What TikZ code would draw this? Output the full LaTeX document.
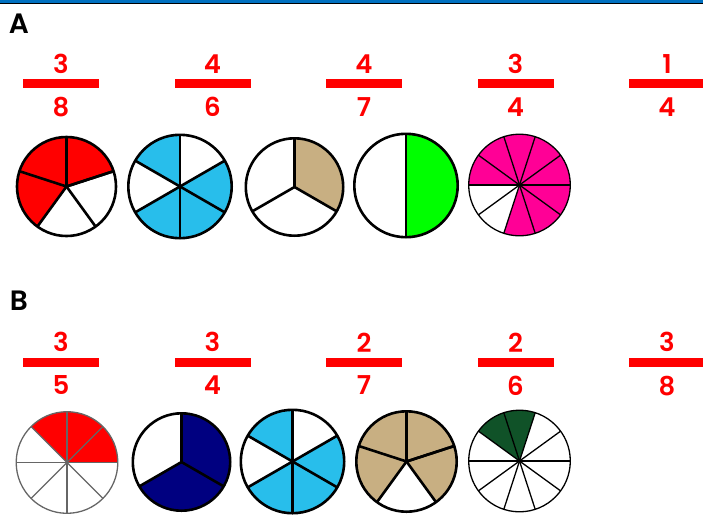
\documentclass[tikz,border=0pt]{standalone}
\usepackage{fontspec}
\usetikzlibrary{positioning}
\newfontfamily\fracfont{Poppins SemiBold}

\definecolor{fracred}{RGB}{255,0,0}
\definecolor{skyblue}{RGB}{40,190,235}
\definecolor{sand}{RGB}{200,175,130}
\definecolor{lime}{RGB}{0,255,0}
\definecolor{magenta}{RGB}{255,0,150}
\definecolor{navyblue}{RGB}{0,0,128}
\definecolor{pine}{RGB}{16,82,40}
\definecolor{topblue}{RGB}{0,112,192}

\begin{document}
\begin{tikzpicture}[x=1pt, y=1pt,
  pie/.style={line width=2.6pt, line join=round},
  thinpie/.style={line width=1.3pt, line join=round},
  greypie/.style={line width=1.3pt, draw=black!60},
  num/.style={text=fracred, inner sep=0pt, font=\fracfont\fontsize{26}{28}\selectfont},
  bar/.style={fill=fracred, minimum width=76pt, minimum height=9pt, inner sep=0pt},
  part/.style={inner sep=0pt, font=\fracfont\fontsize{28}{30}\selectfont}]
  \useasboundingbox (0,0) rectangle (703,-515);
  % top rule
  \fill[topblue] (0,0) rectangle (703,-2.7);
  \fill[black] (0,-2.7) rectangle (703,-4);

  % part A
  \node[part] (labA) at (19,-24) {A};
  \node[bar] (barA1) at (61,-83.5) {};
  \node[num, above=5pt of barA1] (numA1) {3};
  \node[num, below=9pt of barA1] (denA1) {8};
  \node[bar] (barA2) at (212.5,-83.5) {};
  \node[num, above=5pt of barA2] (numA2) {4};
  \node[num, below=9pt of barA2] (denA2) {6};
  \node[bar] (barA3) at (364,-83.5) {};
  \node[num, above=5pt of barA3] (numA3) {4};
  \node[num, below=9pt of barA3] (denA3) {7};
  \node[bar] (barA4) at (515.5,-83.5) {};
  \node[num, above=5pt of barA4] (numA4) {3};
  \node[num, below=9pt of barA4] (denA4) {4};
  \node[bar] (barA5) at (667,-83.5) {};
  \node[num, above=5pt of barA5] (numA5) {1};
  \node[num, below=9pt of barA5] (denA5) {4};

  % pie A1: five parts, three red
  \coordinate (pA1) at (66.5,-186.5);
  \fill[fracred] (pA1) -- +(18:49.5) arc[start angle=18, end angle=234, radius=49.5] -- cycle;
  \foreach \a in {18,90,...,378} \draw[pie] (pA1) -- +(\a:49.5);
  \draw[pie] (pA1) circle[radius=49.5];
  % pie A2: six parts, four blue
  \coordinate (pA2) at (180,-186.5);
  \fill[skyblue] (pA2) -- +(90:51.7) arc[start angle=90, end angle=150, radius=51.7] -- cycle;
  \fill[skyblue] (pA2) -- +(-150:51.7) arc[start angle=-150, end angle=30, radius=51.7] -- cycle;
  \foreach \a in {30,90,...,330} \draw[pie] (pA2) -- +(\a:51.7);
  \draw[pie] (pA2) circle[radius=51.7];
  % pie A3: three parts, one sand
  \coordinate (pA3) at (294.5,-187);
  \fill[sand] (pA3) -- +(-30:48.7) arc[start angle=-30, end angle=90, radius=48.7] -- cycle;
  \foreach \a in {90,210,330} \draw[pie] (pA3) -- +(\a:48.7);
  \draw[pie] (pA3) circle[radius=48.7];
  % pie A4: halves, one green
  \coordinate (pA4) at (406,-185.5);
  \fill[lime] (pA4) -- +(-90:51.7) arc[start angle=-90, end angle=90, radius=51.7] -- cycle;
  \draw[pie] (pA4) -- +(90:51.7) (pA4) -- +(-90:51.7);
  \draw[pie] (pA4) circle[radius=51.7];
  % pie A5: ten parts, eight pink
  \coordinate (pA5) at (519.5,-185);
  \fill[magenta] (pA5) -- +(-108:50.8) arc[start angle=-108, end angle=180, radius=50.8] -- cycle;
  \foreach \a in {0,36,...,324} \draw[thinpie] (pA5) -- +(\a:50.8);
  \draw[thinpie] (pA5) circle[radius=50.8];

  % part B
  \node[part] (labB) at (19,-301) {B};
  \node[bar] (barB1) at (61,-362) {};
  \node[num, above=5pt of barB1] (numB1) {3};
  \node[num, below=9pt of barB1] (denB1) {5};
  \node[bar] (barB2) at (212.5,-362) {};
  \node[num, above=5pt of barB2] (numB2) {3};
  \node[num, below=9pt of barB2] (denB2) {4};
  \node[bar] (barB3) at (364,-362) {};
  \node[num, above=5pt of barB3] (numB3) {2};
  \node[num, below=9pt of barB3] (denB3) {7};
  \node[bar] (barB4) at (515.5,-362) {};
  \node[num, above=5pt of barB4] (numB4) {2};
  \node[num, below=9pt of barB4] (denB4) {6};
  \node[bar] (barB5) at (667,-362) {};
  \node[num, above=5pt of barB5] (numB5) {3};
  \node[num, below=9pt of barB5] (denB5) {8};

  % pie B1: eight parts, three red, grey lines
  \coordinate (pB1) at (67,-462.5);
  \fill[fracred] (pB1) -- +(0:50.8) arc[start angle=0, end angle=135, radius=50.8] -- cycle;
  \foreach \a in {0,45,...,315} \draw[greypie] (pB1) -- +(\a:50.8);
  \draw[greypie] (pB1) circle[radius=50.8];
  % pie B2: three parts, two navy
  \coordinate (pB2) at (181.5,-462);
  \fill[navyblue] (pB2) -- +(-150:48.7) arc[start angle=-150, end angle=90, radius=48.7] -- cycle;
  \foreach \a in {90,210,330} \draw[pie] (pB2) -- +(\a:48.7);
  \draw[pie] (pB2) circle[radius=48.7];
  % pie B3: six parts, four blue
  \coordinate (pB3) at (292.5,-461.5);
  \fill[skyblue] (pB3) -- +(90:51.7) arc[start angle=90, end angle=150, radius=51.7] -- cycle;
  \fill[skyblue] (pB3) -- +(-150:51.7) arc[start angle=-150, end angle=30, radius=51.7] -- cycle;
  \foreach \a in {30,90,...,330} \draw[pie] (pB3) -- +(\a:51.7);
  \draw[pie] (pB3) circle[radius=51.7];
  % pie B4: five parts, four sand
  \coordinate (pB4) at (406.5,-461.5);
  \fill[sand] (pB4) -- +(-54:50.2) arc[start angle=-54, end angle=234, radius=50.2] -- cycle;
  \foreach \a in {18,90,...,378} \draw[pie] (pB4) -- +(\a:50.2);
  \draw[pie] (pB4) circle[radius=50.2];
  % pie B5: ten parts, two green
  \coordinate (pB5) at (519.5,-461);
  \fill[pine] (pB5) -- +(72:50.8) arc[start angle=72, end angle=144, radius=50.8] -- cycle;
  \foreach \a in {0,36,...,324} \draw[thinpie] (pB5) -- +(\a:50.8);
  \draw[thinpie] (pB5) circle[radius=50.8];
\end{tikzpicture}
\end{document}
